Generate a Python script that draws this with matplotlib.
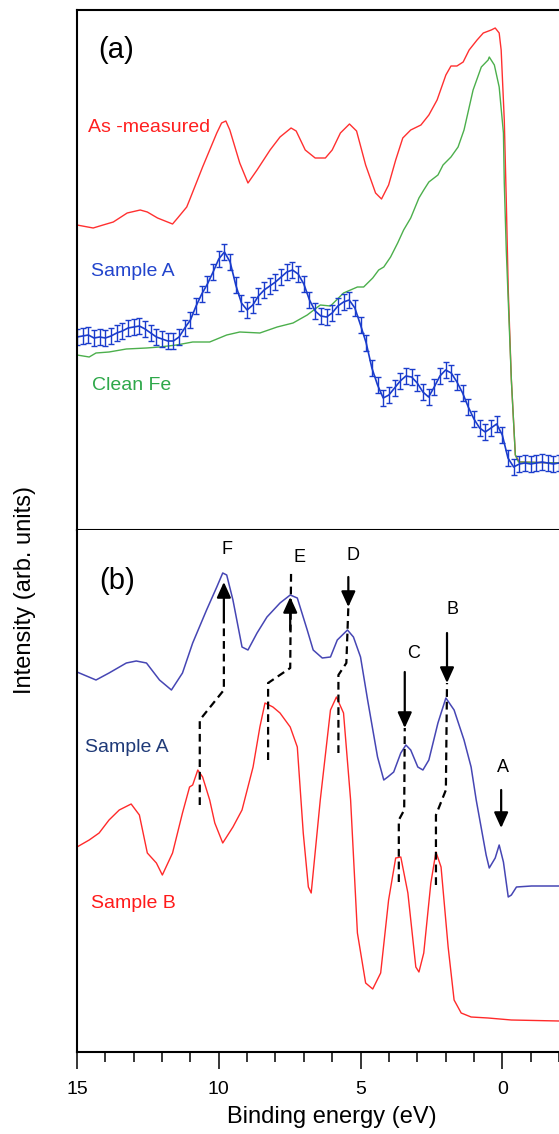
import matplotlib
matplotlib.use("Agg")
import matplotlib.pyplot as plt

plt.rcParams['font.family'] = ['Liberation Sans', 'DejaVu Sans']

# ---------------- Panel (a) data ----------------
# As-measured (red)
e_meas = [15.00, 14.43, 14.08, 13.72, 13.23, 12.77, 12.52, 12.16, 11.63, 11.45, 11.13, 11.03, 10.57, 10.07,
          9.90, 9.75, 9.61, 9.26, 8.97, 8.65, 8.19, 7.84, 7.45, 7.27, 6.95, 6.60, 6.24, 6.00, 5.71, 5.39,
          5.14, 4.82, 4.47, 4.26, 4.01, 3.76, 3.51, 3.23, 2.87, 2.59, 2.30, 1.99, 1.81, 1.60, 1.38, 1.17,
          0.89, 0.67, 0.39, 0.25, 0.11, 0.04, -0.07, -0.14, -0.21, -0.32, -0.46, -0.60, -2.00]
i_meas = [3.05, 3.02, 3.05, 3.08, 3.17, 3.20, 3.18, 3.12, 3.06, 3.12, 3.23, 3.30, 3.63, 3.97,
          4.07, 4.09, 4.00, 3.67, 3.47, 3.60, 3.80, 3.93, 4.02, 3.99, 3.80, 3.72, 3.72, 3.80, 3.97, 4.06,
          3.99, 3.65, 3.37, 3.31, 3.45, 3.70, 3.92, 4.00, 4.05, 4.15, 4.30, 4.55, 4.64, 4.64, 4.68, 4.80,
          4.90, 4.97, 5.00, 5.02, 4.97, 4.80, 4.10, 3.30, 2.40, 1.50, 0.75, 0.68, 0.67]

# Clean Fe (green)
e_fe = [15.00, 14.57, 14.33, 13.87, 13.26, 12.55, 12.09, 11.49, 10.92, 10.32, 9.72, 9.26, 8.55, 7.94,
        7.38, 6.88, 6.42, 6.06, 5.60, 5.11, 4.89, 4.57, 4.36, 4.18, 3.94, 3.69, 3.48, 3.23, 2.94, 2.77,
        2.59, 2.27, 2.09, 1.81, 1.56, 1.35, 1.03, 0.74, 0.50, 0.46, 0.28, 0.11, -0.04, -0.07, -0.14,
        -0.32, -0.46, -0.57, -2.00]
i_fe = [1.75, 1.73, 1.77, 1.78, 1.81, 1.82, 1.83, 1.85, 1.88, 1.88, 1.95, 1.98, 1.97, 2.03,
        2.07, 2.15, 2.25, 2.24, 2.37, 2.43, 2.43, 2.52, 2.60, 2.63, 2.73, 2.87, 3.00, 3.12, 3.32, 3.40,
        3.48, 3.55, 3.65, 3.73, 3.83, 4.00, 4.40, 4.63, 4.70, 4.73, 4.65, 4.43, 3.97, 3.47, 2.80,
        1.50, 0.75, 0.68, 0.67]

# Sample A with error bars (blue)
e_sa = [15.0, 14.8, 14.6, 14.4, 14.2, 14.0, 13.8, 13.6, 13.4, 13.2, 13.0, 12.8, 12.6, 12.4, 12.2, 12.0,
        11.8, 11.6, 11.4, 11.2, 11.0, 10.8, 10.6, 10.4, 10.2, 10.0, 9.8, 9.6, 9.4, 9.2, 9.0, 8.8, 8.6,
        8.4, 8.2, 8.0, 7.8, 7.6, 7.4, 7.2, 7.0, 6.8, 6.6, 6.4, 6.2, 6.0, 5.8, 5.6, 5.4, 5.2, 5.0, 4.8,
        4.6, 4.4, 4.2, 4.0, 3.8, 3.6, 3.4, 3.2, 3.0, 2.8, 2.6, 2.4, 2.2, 2.0, 1.8, 1.6, 1.4, 1.2, 1.0,
        0.8, 0.6, 0.4, 0.2, 0.0, -0.2, -0.4, -0.6, -0.8, -1.0, -1.2, -1.4, -1.6, -1.8, -2.0]
i_sa = [1.93, 1.94, 1.95, 1.92, 1.93, 1.92, 1.94, 1.97, 1.99, 2.02, 2.03, 2.04, 2.01, 1.97, 1.93, 1.91,
        1.89, 1.89, 1.93, 2.02, 2.10, 2.24, 2.36, 2.46, 2.58, 2.71, 2.78, 2.68, 2.45, 2.27, 2.20, 2.25, 2.34,
        2.40, 2.44, 2.48, 2.53, 2.58, 2.60, 2.56, 2.46, 2.30, 2.19, 2.14, 2.13, 2.17, 2.24, 2.28, 2.30, 2.22,
        2.05, 1.87, 1.62, 1.45, 1.32, 1.35, 1.42, 1.49, 1.54, 1.53, 1.47, 1.38, 1.33, 1.43, 1.54, 1.60, 1.57,
        1.48, 1.37, 1.23, 1.11, 1.02, 0.98, 1.02, 1.06, 0.95, 0.72, 0.63, 0.66, 0.67, 0.66, 0.67, 0.68, 0.67,
        0.66, 0.67]
err_sa = 0.08

# ---------------- Panel (b) data ----------------
e_a_b = [15.00, 14.33, 13.87, 13.26, 12.91, 12.55, 12.09, 11.67, 11.28, 10.92, 10.43, 10.07, 9.86, 9.72,
         9.50, 9.18, 8.97, 8.65, 8.30, 7.84, 7.48, 7.23, 6.88, 6.67, 6.35, 6.06, 5.82, 5.46, 5.25, 5.00,
         4.75, 4.40, 4.18, 4.04, 3.83, 3.58, 3.40, 3.23, 2.98, 2.80, 2.59, 2.27, 1.99, 1.70, 1.35, 1.10,
         0.92, 0.57, 0.46, 0.25, 0.11, -0.04, -0.21, -0.32, -0.50, -1.03, -2.00]
i_a_b = [3.80, 3.72, 3.79, 3.89, 3.91, 3.89, 3.72, 3.62, 3.79, 4.09, 4.42, 4.65, 4.79, 4.77,
         4.52, 4.05, 4.02, 4.19, 4.35, 4.49, 4.57, 4.54, 4.22, 4.02, 3.94, 3.95, 4.12, 4.22, 4.15, 3.95,
         3.52, 2.95, 2.72, 2.75, 2.80, 2.99, 3.07, 3.02, 2.85, 2.82, 2.92, 3.29, 3.54, 3.42, 3.12, 2.85,
         2.52, 1.97, 1.84, 1.94, 2.07, 1.90, 1.55, 1.57, 1.65, 1.66, 1.66]

e_b_b = [15.00, 14.57, 14.22, 13.87, 13.51, 13.09, 12.80, 12.52, 12.20, 11.99, 11.63, 11.28, 11.03, 10.92,
         10.74, 10.57, 10.32, 10.14, 9.86, 9.50, 9.18, 8.79, 8.55, 8.37, 8.09, 7.84, 7.48, 7.23, 7.02, 6.84,
         6.74, 6.42, 6.06, 5.85, 5.60, 5.35, 5.11, 4.82, 4.57, 4.29, 4.01, 3.76, 3.58, 3.33, 3.05, 2.94,
         2.77, 2.52, 2.34, 2.16, 1.91, 1.70, 1.45, 1.10, 0.50, -0.32, -2.00]
i_b_b = [2.05, 2.12, 2.19, 2.32, 2.42, 2.48, 2.37, 1.99, 1.89, 1.77, 1.99, 2.39, 2.65, 2.67,
         2.82, 2.75, 2.52, 2.29, 2.09, 2.25, 2.42, 2.85, 3.25, 3.49, 3.45, 3.39, 3.25, 3.05, 2.19, 1.65,
         1.59, 2.52, 3.42, 3.55, 3.39, 2.52, 1.19, 0.69, 0.63, 0.79, 1.52, 1.94, 1.95, 1.59, 0.85, 0.80,
         0.99, 1.69, 2.00, 1.85, 1.05, 0.52, 0.39, 0.35, 0.34, 0.32, 0.31]

# Peak-tracking dashed paths (energy, intensity) and arrows (tail, tip)
paths = {
    'F': ([10.67, 10.67, 9.82, 9.82], [2.47, 3.32, 3.62, 4.32]),
    'E': ([8.26, 8.26, 7.48, 7.45], [2.92, 3.69, 3.84, 4.80]),
    'D': ([5.78, 5.78, 5.50, 5.43], [2.99, 3.77, 3.89, 4.45]),
    'C': ([3.65, 3.65, 3.46, 3.44], [1.70, 2.32, 2.42, 3.24]),
    'B': ([2.34, 2.34, 1.99, 1.95], [1.67, 2.37, 2.62, 3.69]),
}
arrows = {
    'F': ((9.82, 4.32), (9.82, 4.70)),
    'E': ((7.48, 4.22), (7.48, 4.55)),
    'D': ((5.43, 4.75), (5.43, 4.45)),
    'C': ((3.44, 3.80), (3.44, 3.24)),
    'B': ((1.95, 4.19), (1.95, 3.69)),
    'A': ((0.04, 2.62), (0.04, 2.24)),
}
peak_labels = {'F': (9.72, 5.02), 'E': (7.16, 4.95), 'D': (5.25, 4.96),
               'C': (3.12, 3.99), 'B': (1.77, 4.42), 'A': (-0.04, 2.84)}

x_ticks = [15, 10, 5, 0]

# ---------------- Figure ----------------
W, H = 559, 1134
fig = plt.figure(figsize=(W / 100, H / 100), dpi=100)
left = 77 / W
axA = fig.add_axes([left, 1 - 530 / H, 1 - left, 520 / H])
axB = fig.add_axes([left, 1 - 1052 / H, 1 - left, 522 / H])

for ax in (axA, axB):
    ax.set_xlim(15, -2)
    ax.set_yticks([])
    ax.spines['right'].set_visible(False)
    for s in ax.spines.values():
        s.set_linewidth(1.5)
axA.set_ylim(0, 5.20)
axB.set_ylim(0, 5.22)
axA.set_xticks([])
axB.spines['top'].set_visible(False)

# Panel (a)
axA.plot(e_meas, i_meas, color='#ff3030', lw=1.0)
axA.plot(e_fe, i_fe, color='#4caf4c', lw=1.0)
axA.errorbar(e_sa, i_sa, yerr=err_sa, color='#1a3ccc', lw=1.2, elinewidth=1.0,
             capsize=2.2, capthick=1.0)
axA.text(13.62, 4.80, '(a)', fontsize=21, ha='center', va='center', color='black')
axA.text(14.61, 4.03, 'As -measured', fontsize=14, ha='left', va='center', color='#ff2020')
axA.text(14.50, 2.58, 'Sample A', fontsize=14, ha='left', va='center', color='#2244cc')
axA.text(14.47, 1.45, 'Clean Fe', fontsize=14, ha='left', va='center', color='#2ea84a')

# Panel (b)
axB.plot(e_a_b, i_a_b, color='#4646b4', lw=1.1)
axB.plot(e_b_b, i_b_b, color='#ff2a2a', lw=1.0)
for k, (pe, pi) in paths.items():
    axB.plot(pe, pi, color='black', lw=1.6, dashes=(3.5, 2.2))
for k, (tail, tip) in arrows.items():
    axB.annotate('', xy=tip, xytext=tail,
                 arrowprops=dict(arrowstyle='-|>,head_length=0.55,head_width=0.25',
                                 mutation_scale=17, lw=1.6, color='black',
                                 shrinkA=0, shrinkB=0))
for k, (le, li) in peak_labels.items():
    axB.text(le, li, k, fontsize=13, ha='center', va='center', color='black')
axB.text(13.58, 4.71, '(b)', fontsize=21, ha='center', va='center', color='black')
axB.text(14.72, 3.05, 'Sample A', fontsize=14, ha='left', va='center', color='#1f3a78')
axB.text(14.50, 1.49, 'Sample B', fontsize=14, ha='left', va='center', color='#ff1a1a')

axB.set_xticks(x_ticks)
axB.set_xticks(range(-2, 16), minor=True)
axB.tick_params(axis='x', which='major', direction='out', length=12, width=1.1,
                pad=9, labelsize=14)
axB.tick_params(axis='x', which='minor', direction='out', length=7, width=1.1)

fig.text(332 / W, 1 - 1117 / H, 'Binding energy (eV)', fontsize=17, ha='center', va='center')
fig.text(25 / W, 1 - 590 / H, 'Intensity (arb. units)', fontsize=17, ha='center', va='center',
         rotation=90)

fig.savefig('out.png', dpi=100)
